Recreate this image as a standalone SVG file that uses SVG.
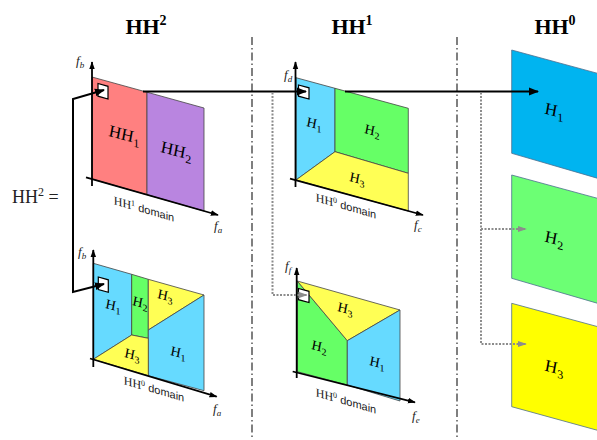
<svg xmlns="http://www.w3.org/2000/svg" width="597" height="440" viewBox="0 0 597 440">
<defs>
<marker id="ah" markerUnits="userSpaceOnUse" markerWidth="10" markerHeight="10" viewBox="0 0 10 10" refX="9" refY="5" orient="auto-start-reverse">
<path d="M0,1 L10,5 L0,9 Z" fill="#000"/>
</marker>
<marker id="axh" markerUnits="userSpaceOnUse" markerWidth="8" markerHeight="8" viewBox="0 0 10 10" refX="9" refY="5" orient="auto">
<path d="M0,1.5 L10,5 L0,8.5 Z" fill="#000"/>
</marker>
<marker id="gh" markerUnits="userSpaceOnUse" markerWidth="9" markerHeight="9" viewBox="0 0 10 10" refX="9" refY="5" orient="auto">
<path d="M0,1.5 L10,5 L0,8.5 Z" fill="#8c8c8c"/>
</marker>
<style>
.edge{stroke:#444;stroke-width:0.8;stroke-linejoin:round}
.redge{stroke:#4d6f8f;stroke-width:0.8}
.axis{stroke:#000;stroke-width:1.8;fill:none;marker-end:url(#axh)}
.sq{fill:#fff;stroke:#000;stroke-width:1.2}
.lbl{font-family:"Liberation Serif",serif;font-style:italic;fill:#000;text-anchor:middle}
.sub{font-style:normal}
.dom{font-family:"Liberation Sans",sans-serif;font-size:11px;fill:#222;text-anchor:middle}
.ax{font-family:"Liberation Serif",serif;font-style:italic;font-size:13px;fill:#222}
.hdr{font-family:"Liberation Serif",serif;font-weight:bold;font-size:22px;fill:#000;text-anchor:middle}
.sep{stroke:#555;stroke-width:1.5;stroke-dasharray:8 3 1.5 3;fill:none}
.blk{stroke:#000;stroke-width:2;fill:none}
.dot{stroke:#8c8c8c;stroke-width:2;stroke-dasharray:2 1.5;fill:none}
.blue{fill:#66DAFF}.green{fill:#66FF66}.yellow{fill:#FFFF55}
</style>
</defs>
<rect width="597" height="440" fill="#fff"/>

<g id="headers">
<text class="hdr" x="146" y="34">HH<tspan font-size="14" dy="-9">2</tspan></text>
<text class="hdr" x="352" y="34">HH<tspan font-size="14" dy="-9">1</tspan></text>
<text class="hdr" x="555" y="34">HH<tspan font-size="14" dy="-9">0</tspan></text>
</g>

<g id="separators">
<line class="sep" x1="252" y1="37" x2="252" y2="440"/>
<line class="sep" x1="457" y1="37" x2="457" y2="440"/>
</g>

<g id="hh2-label">
<text x="12" y="203" font-family="Liberation Serif, serif" font-size="18" fill="#222">HH<tspan font-size="12" dy="-7">2</tspan><tspan dy="7"> =</tspan></text>
</g>

<g id="panel-hh2-top">
<polygon class="edge" fill="#FF8080" points="92,77 147,92.2 147,194.7 92,179"/>
<polygon class="edge" fill="#B985E0" points="147,92.2 204,108 204,211 147,194.7"/>
<line class="axis" x1="92" y1="186" x2="92" y2="62"/>
<line class="axis" x1="86" y1="177.3" x2="218" y2="215"/>
<polygon class="sq" points="98,83.5 108,86.3 108,99 98,96.2"/>
<text class="lbl" font-size="17" transform="translate(124,140) skewY(15)">HH<tspan class="sub" font-size="12" dy="4">1</tspan></text>
<text class="lbl" font-size="17" transform="translate(176,156) skewY(15)">HH<tspan class="sub" font-size="12" dy="4">2</tspan></text>
<text class="dom" transform="translate(144,213) skewY(16)"><tspan font-family="Liberation Serif, serif" font-size="12">HH</tspan><tspan font-family="Liberation Serif, serif" font-size="8" dy="-4">1</tspan><tspan dy="4"> domain</tspan></text>
<text class="ax" x="76" y="65">f<tspan font-size="9" dy="3">b</tspan></text>
<text class="ax" x="214" y="230">f<tspan font-size="9" dy="3">a</tspan></text>
</g>

<g id="panel-hh2-bottom">
<polygon class="edge blue" points="93.3,263.3 131.7,274.3 131.7,335 93.3,359.3"/>
<polygon class="edge green" points="131.7,274.3 148.3,279.3 148.3,338.3 131.7,335"/>
<polygon class="edge yellow" points="148.3,279.3 204,295 148.3,330"/>
<polygon class="edge blue" points="148.3,330 204,295 204,390.7 148.3,375.7"/>
<polygon class="edge yellow" points="93.3,359.3 131.7,335 148.3,338.3 148.3,375.7"/>
<line class="axis" x1="93.3" y1="367" x2="93.3" y2="250"/>
<line class="axis" x1="90" y1="358.5" x2="216.7" y2="396.7"/>
<polygon class="sq" points="98.3,277 108.3,279.8 108.3,292.3 98.3,289.5"/>
<text class="lbl" font-size="14" transform="translate(113,310) skewY(15)">H<tspan class="sub" font-size="10" dy="3">1</tspan></text>
<text class="lbl" font-size="14" transform="translate(140,307) skewY(15)">H<tspan class="sub" font-size="10" dy="3">2</tspan></text>
<text class="lbl" font-size="14" transform="translate(165,300) skewY(15)">H<tspan class="sub" font-size="10" dy="3">3</tspan></text>
<text class="lbl" font-size="14" transform="translate(132,359) skewY(15)">H<tspan class="sub" font-size="10" dy="3">3</tspan></text>
<text class="lbl" font-size="14" transform="translate(178,357) skewY(15)">H<tspan class="sub" font-size="10" dy="3">1</tspan></text>
<text class="dom" transform="translate(154,393) skewY(16)"><tspan font-family="Liberation Serif, serif" font-size="12">HH</tspan><tspan font-family="Liberation Serif, serif" font-size="8" dy="-4">0</tspan><tspan dy="4"> domain</tspan></text>
<text class="ax" x="78" y="256">f<tspan font-size="9" dy="3">b</tspan></text>
<text class="ax" x="213" y="413">f<tspan font-size="9" dy="3">a</tspan></text>
</g>

<g id="panel-hh1-top">
<polygon class="edge blue" points="296,77.7 335,88.3 335,151.7 296,180"/>
<polygon class="edge green" points="335,88.3 408.3,108.3 408.3,173.3 335,151.7"/>
<polygon class="edge yellow" points="296,180 335,151.7 408.3,173.3 408.3,211"/>
<line class="axis" x1="295.5" y1="187" x2="295.5" y2="62"/>
<line class="axis" x1="290" y1="178.7" x2="423" y2="215"/>
<polygon class="sq" points="298.5,85 309,87.8 309,99 298.5,96.2"/>
<text class="lbl" font-size="14" transform="translate(314,128) skewY(15)">H<tspan class="sub" font-size="10" dy="3">1</tspan></text>
<text class="lbl" font-size="14" transform="translate(372,135) skewY(15)">H<tspan class="sub" font-size="10" dy="3">2</tspan></text>
<text class="lbl" font-size="14" transform="translate(357,183) skewY(15)">H<tspan class="sub" font-size="10" dy="3">3</tspan></text>
<text class="dom" transform="translate(346,210) skewY(16)"><tspan font-family="Liberation Serif, serif" font-size="12">HH</tspan><tspan font-family="Liberation Serif, serif" font-size="8" dy="-4">0</tspan><tspan dy="4"> domain</tspan></text>
<text class="ax" x="284" y="79">f<tspan font-size="9" dy="3">d</tspan></text>
<text class="ax" x="414" y="229">f<tspan font-size="9" dy="3">c</tspan></text>
</g>

<g id="panel-hh1-bottom">
<polygon class="edge green" points="297.3,281 347.3,340.7 347.3,385 297.3,371.7"/>
<polygon class="edge yellow" points="297.3,281 400,310 347.3,340.7"/>
<polygon class="edge blue" points="347.3,340.7 400,310 400,401 347.3,385"/>
<line class="axis" x1="296.7" y1="378" x2="296.7" y2="268"/>
<line class="axis" x1="292.7" y1="371.5" x2="415" y2="402.3"/>
<polygon class="sq" points="298.5,288.5 309,291.3 309,302.5 298.5,299.7"/>
<text class="lbl" font-size="14" transform="translate(345,313) skewY(15)">H<tspan class="sub" font-size="10" dy="3">3</tspan></text>
<text class="lbl" font-size="14" transform="translate(319,351) skewY(15)">H<tspan class="sub" font-size="10" dy="3">2</tspan></text>
<text class="lbl" font-size="14" transform="translate(377,367) skewY(15)">H<tspan class="sub" font-size="10" dy="3">1</tspan></text>
<text class="dom" transform="translate(346,405) skewY(16)"><tspan font-family="Liberation Serif, serif" font-size="12">HH</tspan><tspan font-family="Liberation Serif, serif" font-size="8" dy="-4">0</tspan><tspan dy="4"> domain</tspan></text>
<text class="ax" x="285" y="270">f<tspan font-size="9" dy="3">f</tspan></text>
<text class="ax" x="412" y="420">f<tspan font-size="9" dy="3">e</tspan></text>
</g>

<g id="panel-hh0-h1">
<polygon class="redge" fill="#00B4F0" points="511.7,50 600,74 600,179 511.7,153.3"/>
<text class="lbl" font-size="17" transform="translate(554,116) skewY(15)">H<tspan class="sub" font-size="12" dy="4">1</tspan></text>
</g>
<g id="panel-hh0-h2">
<polygon class="redge" fill="#6CFF74" points="511.7,175 600,199 600,304 511.7,278.3"/>
<text class="lbl" font-size="17" transform="translate(554,244) skewY(15)">H<tspan class="sub" font-size="12" dy="4">2</tspan></text>
</g>
<g id="panel-hh0-h3">
<polygon class="redge" fill="#FFFF00" points="511.7,303.3 600,327.3 600,431 511.7,406.7"/>
<text class="lbl" font-size="17" transform="translate(554,373) skewY(15)">H<tspan class="sub" font-size="12" dy="4">3</tspan></text>
</g>

<g id="connectors">
<path class="blk" d="M104,90 L73,99 L73,292 L104,284" marker-start="url(#ah)" marker-end="url(#ah)"/>
<line class="blk" x1="143" y1="91.5" x2="306" y2="91.5" marker-end="url(#ah)"/>
<line class="blk" x1="345" y1="91.5" x2="538" y2="91.5" marker-end="url(#ah)"/>
<path class="dot" d="M272.5,92.5 L272.5,295 L306.5,295" marker-end="url(#gh)"/>
<path class="dot" d="M481,92.5 L481,344 L526,344" marker-end="url(#gh)"/>
<path class="dot" d="M481,229 L526,229" marker-end="url(#gh)"/>
</g>
</svg>
